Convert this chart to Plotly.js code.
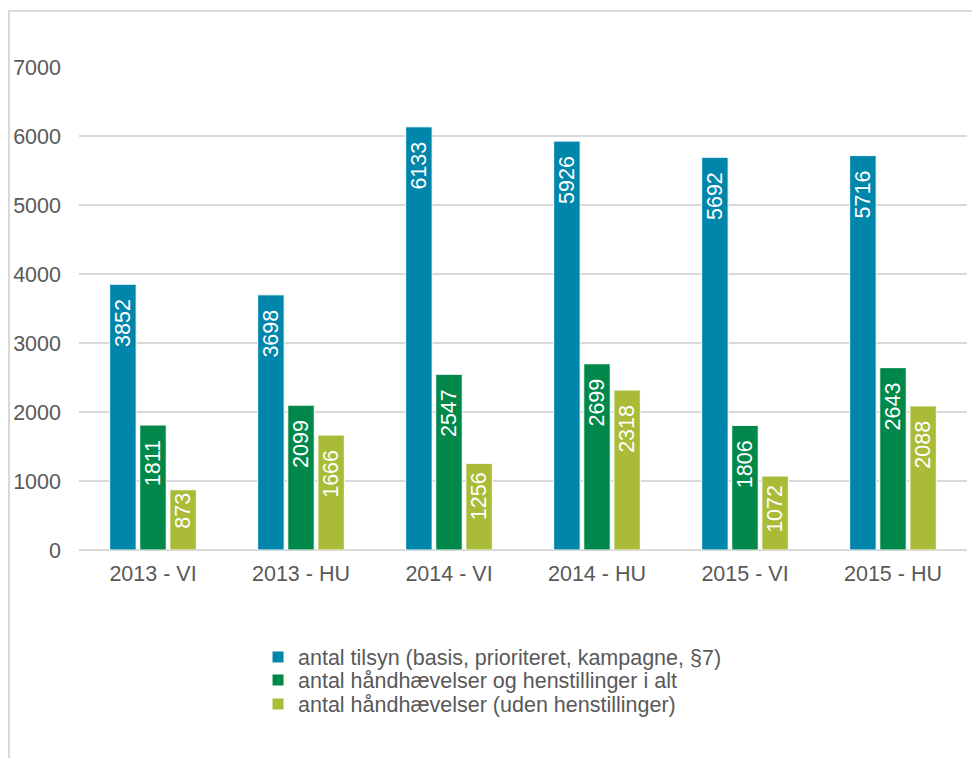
<!DOCTYPE html>
<html>
<head>
<meta charset="utf-8">
<script src="https://cdn.plot.ly/plotly-3.0.1.min.js"></script>
<style>
html,body{margin:0;padding:0;background:#fff;}
#wrap{position:relative;width:972px;height:758px;overflow:hidden;}
#frame{position:absolute;left:8px;top:10px;width:980px;height:760px;border-left:2px solid #d9d9d9;border-top:2px solid #d9d9d9;pointer-events:none;}
#chart{position:absolute;left:0;top:0;width:972px;height:758px;}
</style>
</head>
<body>
<div id="wrap"><div id="chart"></div><div id="frame"></div></div>
<script>
const categories = ["2013 - VI", "2013 - HU", "2014 - VI", "2014 - HU", "2015 - VI", "2015 - HU"];
const seriesNames = [
  "antal tilsyn (basis, prioriteret, kampagne, §7)",
  "antal håndhævelser og henstillinger i alt",
  "antal håndhævelser (uden henstillinger)"
];
const tilsyn = [3852, 3698, 6133, 5926, 5692, 5716];
const haandhaevelserIAlt = [1811, 2099, 2547, 2699, 1806, 2643];
const haandhaevelserUden = [873, 1666, 1256, 2318, 1072, 2088];
const colors = ["#0086ab", "#00884a", "#a9bb37"];
const yTicks = [0, 1000, 2000, 3000, 4000, 5000, 6000, 7000];

const seriesValues = [tilsyn, haandhaevelserIAlt, haandhaevelserUden];
const font = "Liberation Sans, Arial, sans-serif";
const FS = 21.5;
// label padding at the bar end (Excel inside-end labels sit a little below the top)
function labelText(v) {
  const pad = v >= 1500 ? "\u00a0\u00a0" : (v >= 1000 ? "\u00a0" : "");
  return String(v) + pad;
}
const legendIds = ["legend", "legend2", "legend3"];
const traces = seriesValues.map((vals, i) => ({
  type: "bar",
  name: seriesNames[i],
  legend: legendIds[i],
  x: categories,
  y: vals,
  text: vals.map(labelText),
  texttemplate: "%{text}",
  textposition: "inside",
  insidetextanchor: "end",
  constraintext: "none",
  textangle: -90,
  insidetextfont: {family: font, size: FS, color: "#ffffff"},
  marker: {color: colors[i], line: {color: "#ffffff", width: 1}},
  hoverinfo: "x+y+name"
}));

function legendAt(ypx) {
  return {
    orientation: "v",
    x: 0.2016, xanchor: "left",
    y: (550 - ypx) / 483, yanchor: "middle",
    font: {family: font, size: FS, color: "#595959"},
    bgcolor: "rgba(0,0,0,0)",
    itemwidth: 30
  };
}

const layout = {
  width: 972, height: 758,
  margin: {l: 79, r: 5, t: 67, b: 208},
  paper_bgcolor: "rgba(0,0,0,0)",
  plot_bgcolor: "rgba(0,0,0,0)",
  barmode: "group",
  bargap: 0.39,
  bargroupgap: 0.12,
  font: {family: font, size: FS, color: "#595959"},
  xaxis: {
    type: "category",
    showgrid: false,
    showline: false,
    zeroline: false,
    ticks: "",
    tickfont: {family: font, size: FS, color: "#595959"},
    ticklabelstandoff: 8
  },
  yaxis: {
    range: [0, 7000],
    tickvals: yTicks,
    ticktext: yTicks.map(String),
    showgrid: true,
    gridcolor: "#d9d9d9",
    gridwidth: 1.5,
    zeroline: true,
    zerolinecolor: "#d9d9d9",
    zerolinewidth: 1.5,
    showline: false,
    ticks: "",
    tickfont: {family: font, size: FS, color: "#595959"},
    ticklabelstandoff: 17
  },
  showlegend: true,
  legend: legendAt(657),
  legend2: legendAt(680),
  legend3: legendAt(704)
};

Plotly.newPlot("chart", traces, layout, {displayModeBar: false, staticPlot: true});
</script>
</body>
</html>
